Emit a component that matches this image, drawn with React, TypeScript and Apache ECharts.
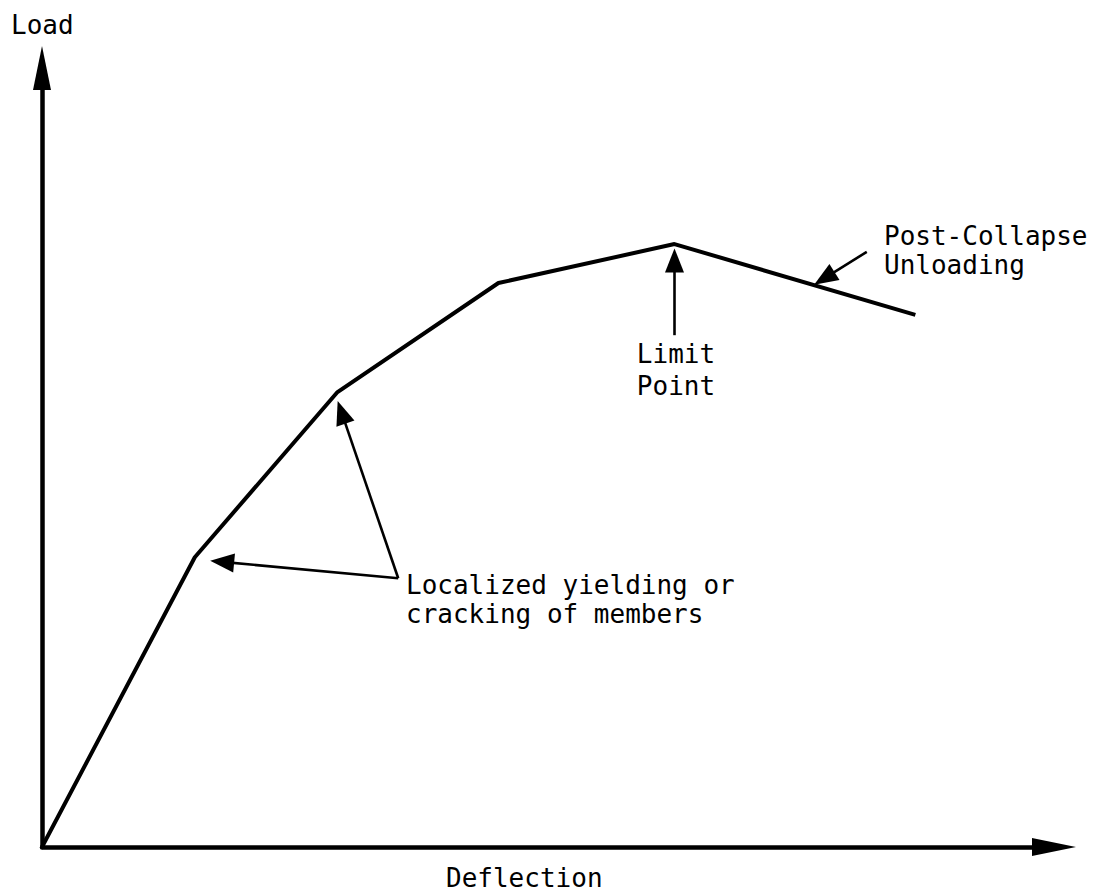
import React, { useEffect, useRef } from "react";
import * as echarts from "echarts";

// Load–deflection curve (arbitrary units, 0..100 on both axes)
const deflection = [0, 15.1, 29.2, 45.1, 62.5, 86.3];
const load = [0, 37.2, 58.4, 72.4, 77.4, 68.3];

// Annotation arrows: [fromX, fromY, toX, toY] in data units
const annotationArrows = [
  [35.2, 34.5, 17.8, 36.6],
  [35.2, 34.5, 29.6, 55.8],
  [62.5, 65.7, 62.5, 75.3],
  [81.5, 76.4, 77.3, 73.0],
];

const axisTitles = { y: "Load", x: "Deflection" };
const notes = {
  yielding: ["Localized yielding or", "cracking of members"],
  limit: ["Limit", "Point"],
  post: ["Post-Collapse", "Unloading"],
};

const FONT = '"DejaVu Sans Mono", monospace';

export default function App() {
  const ref = useRef<HTMLDivElement>(null);
  useEffect(() => {
    if (!ref.current) return;
    const chart = echarts.init(ref.current, undefined, { renderer: "svg" });
    const txt = (text: string, x: number, y: number, align = "left") => ({
      type: "text",
      x,
      y,
      silent: true,
      style: {
        text,
        fill: "#000",
        fontSize: 26,
        fontFamily: FONT,
        align,
        verticalAlign: "middle",
      },
    });
    const axisCommon = {
      type: "value",
      min: 0,
      max: 100,
      axisLine: {
        show: true,
        onZero: false,
        symbol: ["none", "triangle"],
        symbolSize: [18, 44],
        lineStyle: { color: "#000", width: 4.5 },
      },
      axisTick: { show: false },
      axisLabel: { show: false },
      splitLine: { show: false },
    };
    chart.setOption({
      animation: false,
      backgroundColor: "#fff",
      grid: { left: 42, right: 47, top: 68, bottom: 49 },
      xAxis: axisCommon,
      yAxis: axisCommon,
      series: [
        {
          type: "line",
          data: deflection.map((d, i) => [d, load[i]]),
          symbol: "none",
          lineStyle: { color: "#000", width: 4 },
          silent: true,
          markLine: {
            silent: true,
            symbol: ["none", "triangle"],
            symbolSize: [19, 24],
            label: { show: false },
            lineStyle: { color: "#000", width: 2.6, type: "solid" },
            data: annotationArrows.map((a) => [
              { coord: [a[0], a[1]] },
              { coord: [a[2], a[3]] },
            ]),
          },
        },
      ],
      graphic: [
        txt(axisTitles.y, 11, 25),
        txt(axisTitles.x, 446, 878),
        txt(notes.yielding[0], 406, 585),
        txt(notes.yielding[1], 406, 614),
        txt(notes.limit[0], 676, 354, "center"),
        txt(notes.limit[1], 676, 386, "center"),
        txt(notes.post[0], 884, 236),
        txt(notes.post[1], 884, 265),
      ],
    });
    return () => chart.dispose();
  }, []);
  return (
    <div
      ref={ref}
      style={{ position: "absolute", left: 0, top: 0, width: 1101, height: 896 }}
    />
  );
}
